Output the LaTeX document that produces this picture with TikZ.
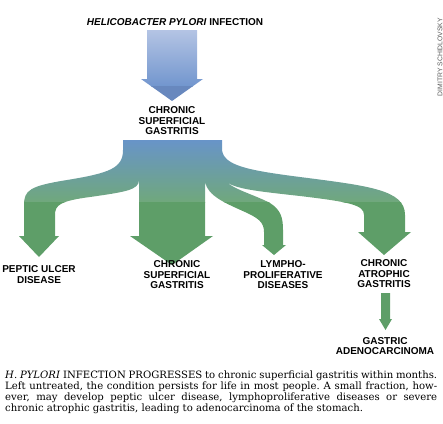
\documentclass[tikz,border=0pt]{standalone}
\usepackage{fontspec}
\setsansfont{Liberation Sans}
\newfontfamily\notefont{DejaVu Serif}
\usetikzlibrary{positioning}
\definecolor{TopBlueLight}{RGB}{180,196,228}
\definecolor{TopBlueDark}{RGB}{114,150,206}
\definecolor{HeadBlue}{RGB}{104,136,190}
\definecolor{FlowBlue}{RGB}{104,148,200}
\definecolor{FlowGreenLight}{RGB}{112,168,124}
\definecolor{FlowGreen}{RGB}{94,158,104}
\definecolor{CreditGray}{RGB}{90,90,90}
\tikzstyle{stage} = [font=\sffamily\bfseries\fontsize{10}{10.5}\selectfont, align=center, inner sep=0pt]
\tikzset{
  credit/.style={rotate=90, font=\sffamily\fontsize{6.8}{7}\selectfont, text=CreditGray, inner sep=0pt},
  caption/.style={anchor=north west, align=left, inner sep=0pt, font=\notefont\frenchspacing\fontsize{10.1}{11}\selectfont},
  small arrow/.style={fill=FlowGreen}
}
\newcommand{\flowoutline}{%
  (123,140) -- (222,140) -- (222,150)
  .. controls (224,165) and (245,170) .. (300,177)
  .. controls (370,186) and (405,190) .. (405,215)
  -- (405,232) -- (411,232) -- (384,255) -- (358,232) -- (364,232) -- (364,215)
  .. controls (364,205) and (350,202) .. (300,196)
  .. controls (255,191) and (235,189) .. (225,181)
  .. controls (235,190) and (255,195) .. (270,203)
  .. controls (281,210) and (283,218) .. (283,230)
  -- (283,245) -- (286,245) -- (274,255) -- (262,245) -- (264,245) -- (264,232)
  .. controls (264,222) and (258,218) .. (245,212)
  .. controls (225,203) and (208,196) .. (205,182)
  -- (205,236) -- (213,236) -- (172,265) -- (130,236) -- (139,236) -- (139,180)
  .. controls (139,190) and (125,192) .. (90,197)
  .. controls (60,201) and (55,205) .. (55,215)
  -- (55,236) -- (59,236) -- (39,257) -- (19,236) -- (24,236) -- (24,205)
  .. controls (24,190) and (30,186) .. (67,180)
  .. controls (110,173) and (123,168) .. (123,150) -- cycle}

\begin{document}
\begin{tikzpicture}[x=1pt, y=-1pt]
  \useasboundingbox (0,0) rectangle (443,423);

  % Infection arrow
  \begin{scope}
    \clip (147,30) -- (197,30) -- (197,79) -- (203,79) -- (172,101) -- (141,79) -- (147,79) -- cycle;
    \shade[top color=TopBlueLight, bottom color=TopBlueDark] (140,30) rectangle (205,86);
    \fill[HeadBlue] (140,86) rectangle (205,102);
  \end{scope}

  % Branching flow
  \begin{scope}
    \clip \flowoutline;
    \shade[top color=FlowBlue, bottom color=FlowGreenLight] (15,140) rectangle (415,202);
    \fill[FlowGreen] (15,202) rectangle (415,266);
  \end{scope}

  % Last step
  \fill[small arrow] (381,293) -- (390,293) -- (390,319) -- (392,319) -- (385.5,330) -- (379,319) -- (381,319) -- cycle;

  % Labels
  \node[stage] (infection) at (175,22) {\textit{HELICOBACTER PYLORI} INFECTION};
  \node[stage] (superficial) at (172,121) {CHRONIC\\SUPERFICIAL\\GASTRITIS};
  \node[stage] (peptic) at (39,274.5) {PEPTIC ULCER\\DISEASE};
  \node[stage] (chronic) at (177,275) {CHRONIC\\SUPERFICIAL\\GASTRITIS};
  \node[stage] (lympho) at (283,275) {LYMPHO-\\PROLIFERATIVE\\DISEASES};
  \node[stage] (atrophic) at (384,274) {CHRONIC\\ATROPHIC\\GASTRITIS};
  \node[stage] (adeno) at (385,346) {GASTRIC\\ADENOCARCINOMA};
  \node[credit] (artist) at (440,57) {DIMITRY SCHIDLOVSKY};

  % Caption
  \node[caption] (text) at (5,370.5) {%
    \makebox[432pt][s]{\textit{H. PYLORI} INFECTION PROGRESSES to chronic superficial gastritis within months.}\\
    \makebox[432pt][s]{Left untreated, the condition persists for life in most people. A small fraction, how-}\\
    \makebox[432pt][s]{ever, may develop peptic ulcer disease, lymphoproliferative diseases or severe}\\
    chronic atrophic gastritis, leading to adenocarcinoma of the stomach.};
\end{tikzpicture}
\end{document}
